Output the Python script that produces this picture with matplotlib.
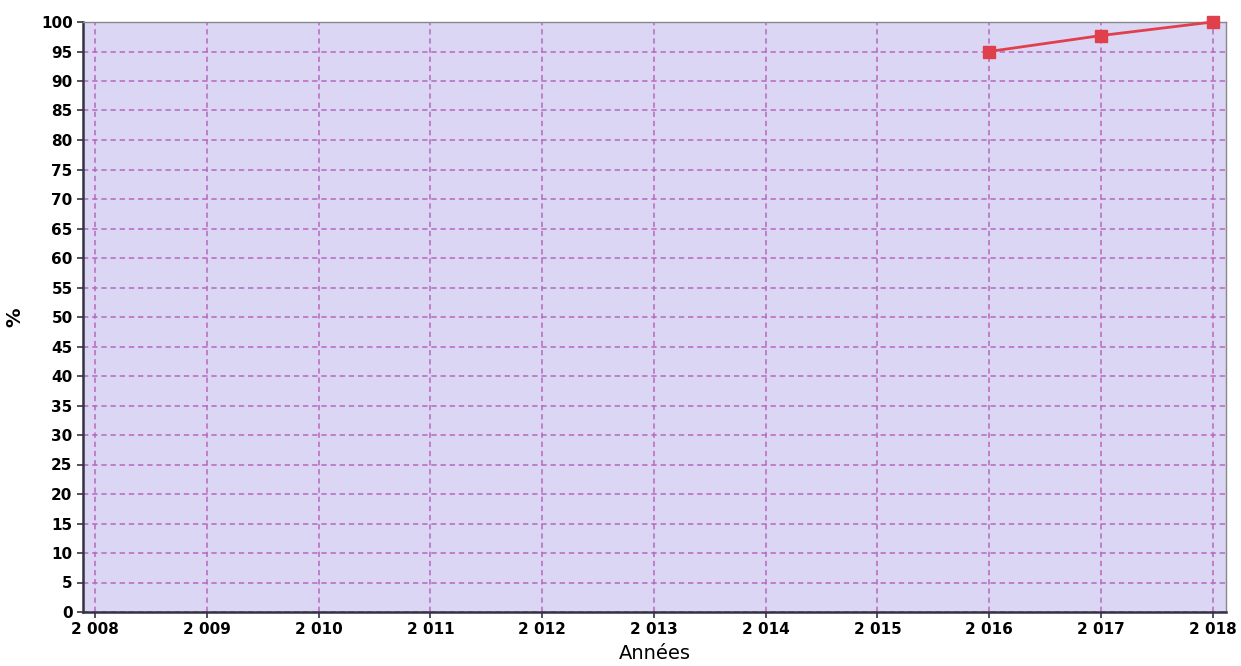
import matplotlib
matplotlib.use("Agg")
import matplotlib.pyplot as plt
from matplotlib.ticker import FuncFormatter

years = [2016, 2017, 2018]
values = [95.0, 97.7, 100.0]
x_ticks = list(range(2008, 2019))
y_ticks = list(range(0, 101, 5))

fig = plt.figure(figsize=(12.41, 6.66), dpi=100)
ax = fig.add_axes([83/1241, 1-612/666, (1226-83)/1241, (612-22)/666])
ax.set_facecolor("#dcd6f5")
ax.plot(years, values, color="#e0404c", linewidth=2, marker="s", markersize=8,
        markerfacecolor="#e0404c", markeredgecolor="#e0404c", zorder=5, clip_on=False)
ax.set_xlim(2007.89, 2018.12)
ax.set_ylim(0, 100)
ax.set_xticks(x_ticks)
ax.set_yticks(y_ticks)
ax.xaxis.set_major_formatter(FuncFormatter(lambda v, p: f"{int(v):,}".replace(",", " ")))
ax.grid(True, color="#b568bd", linestyle=(0, (3.5, 2.5)), linewidth=1.1)
ax.set_axisbelow(True)
for lab in ax.get_xticklabels() + ax.get_yticklabels():
    lab.set_fontweight("bold")
    lab.set_fontsize(11)
ax.tick_params(axis="both", colors="#333344", labelcolor="black", length=4, width=1.2)
for s in ["left", "bottom"]:
    ax.spines[s].set_color("#333344")
    ax.spines[s].set_linewidth(1.8)
for s in ["top", "right"]:
    ax.spines[s].set_color("#888888")
    ax.spines[s].set_linewidth(1.0)
ax.set_xlabel("Années", fontsize=14, labelpad=5)
ax.set_ylabel("%", fontsize=14, fontweight="bold", labelpad=12)
fig.savefig("out.png", dpi=100)
